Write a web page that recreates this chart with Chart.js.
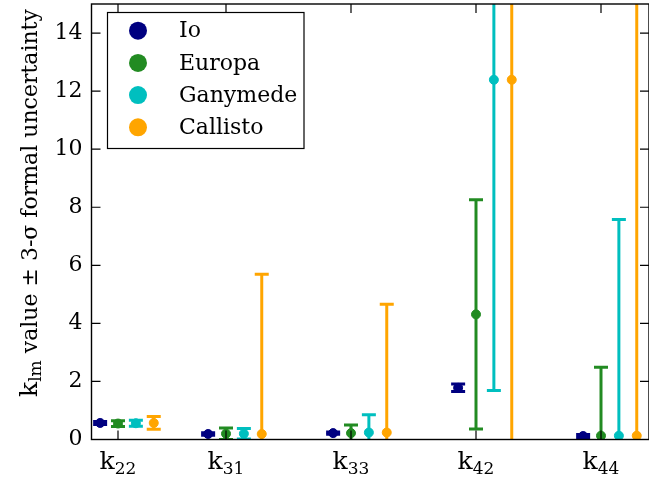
<!DOCTYPE html>
<html>
<head>
<meta charset="utf-8">
<script src="https://cdn.jsdelivr.net/npm/chart.js@4.4.0/dist/chart.umd.min.js"></script>
<style>
  html, body { margin: 0; padding: 0; background: #fff; }
  #wrap { width: 649px; height: 479px; }
</style>
</head>
<body>
<div id="wrap"><canvas id="errChart"></canvas></div>
<script>
// k_lm categories (subscripts) and where they sit on the x axis
var categories = ["22", "31", "33", "42", "44"];
var catPos = [1.136, 2, 3, 4, 5];
var yTicks = [0, 2, 4, 6, 8, 10, 12, 14];

var seriesNames = ["Io", "Europa", "Ganymede", "Callisto"];
var seriesColors = ["#000080", "#228b22", "#00bfbf", "#ffa500"];
var seriesOffset = [-0.143, 0, 0.143, 0.286];

// value and 3-sigma uncertainty per moon
var ioValue       = [0.57, 0.19, 0.22, 1.78, 0.12];
var ioError       = [0.05, 0.04, 0.04, 0.13, 0.05];
var europaValue   = [0.55, 0.20, 0.22, 4.31, 0.13];
var europaError   = [0.10, 0.20, 0.28, 3.95, 2.36];
var ganymedeValue = [0.56, 0.20, 0.24, 12.39, 0.13];
var ganymedeError = [0.10, 0.18, 0.61, 10.70, 7.45];
var callistoValue = [0.57, 0.19, 0.24, 12.39, 0.13];
var callistoError = [0.22, 5.50, 4.42, 15.0, 17.0];

var allValues = [ioValue, europaValue, ganymedeValue, callistoValue];
var allErrors = [ioError, europaError, ganymedeError, callistoError];

var serif = "'DejaVu Serif', serif";
var tickLen = 9;

var datasets = [];
seriesNames.forEach(function (name, s) {
  var col = seriesColors[s];
  var bars = [], caps = [], pts = [];
  allValues[s].forEach(function (v, i) {
    var x = catPos[i] + seriesOffset[s];
    var e = allErrors[s][i];
    bars.push({ x: x, y: v - e }, { x: x, y: v + e }, { x: x, y: null });
    caps.push({ x: x, y: v - e }, { x: x, y: v + e });
    pts.push({ x: x, y: v });
  });
  var base = 100 - s * 3;
  datasets.push({
    label: name + " bars", data: bars, showLine: true, spanGaps: false,
    borderColor: col, borderWidth: 3, pointRadius: 0, order: base
  });
  datasets.push({
    label: name + " caps", data: caps, showLine: false,
    pointStyle: "line", pointRadius: 7, pointBorderWidth: 3,
    pointBorderColor: col, pointBackgroundColor: col, order: base - 1
  });
  datasets.push({
    label: name, data: pts, showLine: false,
    pointStyle: "circle", pointRadius: 4.5, pointBorderWidth: 1,
    pointBackgroundColor: col, pointBorderColor: col, order: base - 2
  });
});

var decor = {
  id: "decor",
  afterDraw: function (chart) {
    var ctx = chart.ctx, a = chart.chartArea;
    var xs = chart.scales.x, ys = chart.scales.y;
    ctx.save();
    ctx.strokeStyle = "#000";
    ctx.lineWidth = 1.2;
    ctx.beginPath();
    ys.ticks.forEach(function (t) {
      var y = ys.getPixelForValue(t.value);
      ctx.moveTo(a.left, y); ctx.lineTo(a.left + tickLen, y);
      ctx.moveTo(a.right, y); ctx.lineTo(a.right - tickLen, y);
    });
    xs.ticks.forEach(function (t) {
      var x = xs.getPixelForValue(t.value);
      ctx.moveTo(x, a.bottom); ctx.lineTo(x, a.bottom - tickLen);
      ctx.moveTo(x, a.top); ctx.lineTo(x, a.top + tickLen);
    });
    ctx.stroke();
    ctx.lineWidth = 1.4;
    ctx.strokeRect(a.left, a.top, a.right - a.left, a.bottom - a.top);

    // x tick labels: k with subscript
    ctx.fillStyle = "#000";
    ctx.textBaseline = "alphabetic";
    ctx.textAlign = "left";
    categories.forEach(function (sub, i) {
      var px = xs.getPixelForValue(catPos[i]);
      ctx.font = "25px " + serif;
      var wk = ctx.measureText("k").width;
      ctx.font = "17px " + serif;
      var ws = ctx.measureText(sub).width;
      var x0 = px - (wk + ws) / 2;
      ctx.font = "25px " + serif;
      ctx.fillText("k", x0, 469);
      ctx.font = "17px " + serif;
      ctx.fillText(sub, x0 + wk, 474);
    });

    // y axis title
    ctx.save();
    ctx.translate(37, 397);
    ctx.rotate(-Math.PI / 2);
    ctx.font = "25px " + serif;
    ctx.fillText("k", 0, 0);
    var w1 = ctx.measureText("k").width;
    ctx.font = "17px " + serif;
    ctx.fillText("lm", w1, 4);
    var w2 = ctx.measureText("lm").width;
    ctx.font = "22px " + serif;
    ctx.fillText(" value \u00b1 3-\u03c3 formal uncertainty", w1 + w2, 0);
    ctx.restore();

    // legend
    ctx.fillStyle = "#fff";
    ctx.fillRect(107.5, 12.5, 196.5, 136);
    ctx.lineWidth = 1.2;
    ctx.strokeRect(107.5, 12.5, 196.5, 136);
    ctx.font = "22px " + serif;
    ctx.textBaseline = "middle";
    seriesNames.forEach(function (name, s) {
      var cy = 30.7 + s * 32.2;
      ctx.fillStyle = seriesColors[s];
      ctx.beginPath();
      ctx.arc(138, cy, 9, 0, Math.PI * 2);
      ctx.fill();
      ctx.fillStyle = "#000";
      ctx.fillText(name, 179, cy + 1);
    });
    ctx.restore();
  }
};

new Chart(document.getElementById("errChart"), {
  type: "scatter",
  data: { datasets: datasets },
  options: {
    responsive: true,
    maintainAspectRatio: false,
    animation: false,
    layout: { autoPadding: false, padding: { left: 0, right: 0, top: 4, bottom: 0 } },
    plugins: { legend: { display: false }, tooltip: { enabled: false } },
    scales: {
      x: {
        type: "linear", min: 0.924, max: 5.384,
        afterBuildTicks: function (axis) {
          axis.ticks = catPos.map(function (v) { return { value: v }; });
        },
        afterFit: function (axis) {
          axis.height = 39.5;
          axis.paddingLeft = 0; axis.paddingRight = 0;
        },
        grid: { display: false },
        border: { display: false },
        ticks: { display: false }
      },
      y: {
        min: 0, max: 15,
        afterBuildTicks: function (axis) {
          axis.ticks = yTicks.map(function (v) { return { value: v }; });
        },
        afterFit: function (axis) {
          axis.width = 91.5;
          axis.paddingTop = 0; axis.paddingBottom = 0;
        },
        grid: { display: false, drawTicks: false },
        border: { display: false },
        ticks: {
          color: "#000", padding: 9,
          font: { family: serif, size: 22 },
          callback: function (v) { return String(v); }
        }
      }
    }
  },
  plugins: [decor]
});
</script>
</body>
</html>
